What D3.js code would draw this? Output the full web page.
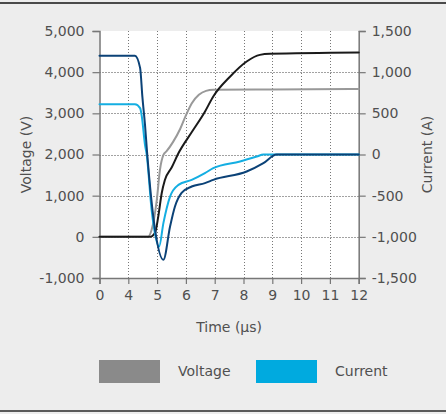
<!DOCTYPE html>
<html>
<head>
<meta charset="utf-8">
<script src="https://cdn.jsdelivr.net/npm/d3@7"></script>
<style>
  html, body { margin: 0; padding: 0; background: #ededed; }
  svg { display: block; }
  text { font-family: "DejaVu Sans", sans-serif; fill: #505050; }
</style>
</head>
<body>
<svg id="chart" width="446" height="414"></svg>
<script>
// Time axis ticks (µs); 0 → 4 is compressed into one step
const timeTicks = [0, 4, 5, 6, 7, 8, 9, 10, 11, 12];
const voltageTicks = [-1000, 0, 1000, 2000, 3000, 4000, 5000];
const voltageTickLabels = ["-1,000", "0", "1,000", "2,000", "3,000", "4,000", "5,000"];
const currentTicks = [-1500, -1000, -500, 0, 500, 1000, 1500];
const currentTickLabels = ["-1,500", "-1,000", "-500", "0", "500", "1,000", "1,500"];

// Voltage traces (V) vs time (µs)
const voltageGrey = [
  [0, 0], [4.68, 0], [4.81, 170], [4.99, 900], [5.10, 1630], [5.22, 1990],
  [5.33, 2080], [5.55, 2300], [5.8, 2620], [6.0, 2950], [6.2, 3240],
  [6.45, 3450], [6.7, 3545], [6.95, 3570], [9, 3580], [12, 3590]
];
const voltageBlack = [
  [0, 0], [4.75, 0], [4.93, 100], [5.04, 490], [5.16, 1060], [5.27, 1380],
  [5.51, 1690], [5.74, 2030], [6.20, 2540], [6.66, 3040], [6.95, 3410],
  [7.53, 3890], [8.11, 4260], [8.57, 4420], [8.92, 4445], [12, 4477]
];

// Current traces (A) vs time (µs)
const currentCyan = [
  [0, 610], [4.23, 610], [4.41, 563], [4.47, 461], [4.58, 117], [4.64, -4],
  [4.81, -672], [5.07, -1118], [5.22, -830], [5.45, -511], [5.74, -369],
  [6.20, -308], [6.66, -226], [6.95, -166], [7.88, -85], [8.46, -25],
  [8.69, 0], [12, 0]
];
const currentNavy = [
  [0, 1200], [4.23, 1200], [4.41, 1052], [4.49, 696], [4.58, 360], [4.65, 36],
  [4.93, -915], [5.22, -1279], [5.45, -875], [5.62, -632], [5.85, -466],
  [6.20, -389], [6.66, -348], [6.95, -308], [8.11, -207], [8.69, -105],
  [9.15, 0], [12, 0]
];

const legendItems = [
  { label: "Voltage", color: "#8a8a8a" },
  { label: "Current", color: "#00aadf" }
];

const svg = d3.select("#chart");

// frame lines
svg.append("rect").attr("x", 0).attr("y", 2).attr("width", 446).attr("height", 2).attr("fill", "#4a4a4a");
svg.append("rect").attr("x", 0).attr("y", 410).attr("width", 446).attr("height", 2).attr("fill", "#5a5a5a");

const plotLeft = 99.5, plotRight = 358.7, plotTop = 31, plotBottom = 278;
const step = (plotRight - plotLeft) / (timeTicks.length - 1);

const x = d3.scaleLinear().domain([0, 4, 12]).range([plotLeft, plotLeft + step, plotRight]);
const yV = d3.scaleLinear().domain([-1000, 5000]).range([plotBottom, plotTop]);
const yI = d3.scaleLinear().domain([-1500, 1500]).range([plotBottom, plotTop]);

// plot background
svg.append("rect").attr("x", plotLeft).attr("y", plotTop)
  .attr("width", plotRight - plotLeft).attr("height", plotBottom - plotTop).attr("fill", "#ffffff");

// dotted grid
const grid = svg.append("g").attr("stroke-width", 1).attr("stroke-dasharray", "1,2");
grid.selectAll("line.v").data(timeTicks.filter(t => t > 0 && t < 12)).join("line")
  .attr("stroke", "#777")
  .attr("x1", d => Math.round(x(d)) + 0.5).attr("x2", d => Math.round(x(d)) + 0.5)
  .attr("y1", plotTop).attr("y2", plotBottom);
grid.selectAll("line.h").data(voltageTicks.filter(v => v > -1000 && v < 5000)).join("line")
  .attr("stroke", "#444")
  .attr("x1", plotLeft).attr("x2", plotRight)
  .attr("y1", d => Math.round(yV(d)) + 0.5).attr("y2", d => Math.round(yV(d)) + 0.5);

// axes
function styleAxis(g) {
  g.selectAll(".domain").attr("stroke", "#777").attr("stroke-width", 1.5);
  g.selectAll(".tick line").attr("stroke", "#777").attr("stroke-width", 1.2);
  g.selectAll(".tick text").attr("fill", "#505050")
    .style("font-family", '"DejaVu Sans", sans-serif').style("font-size", "14px");
}

svg.append("g").attr("transform", `translate(${plotLeft},0)`)
  .call(d3.axisLeft(yV).tickValues(voltageTicks)
    .tickFormat((d, i) => voltageTickLabels[i]).tickSizeOuter(0).tickSize(7).tickPadding(8))
  .call(styleAxis);

svg.append("g").attr("transform", `translate(${plotRight},0)`)
  .call(d3.axisRight(yI).tickValues(currentTicks)
    .tickFormat((d, i) => currentTickLabels[i]).tickSizeOuter(0).tickSize(7).tickPadding(6))
  .call(styleAxis);

svg.append("g").attr("transform", `translate(0,${plotBottom})`)
  .call(d3.axisBottom(x).tickValues(timeTicks)
    .tickFormat(d => String(d)).tickSizeOuter(0).tickSize(6).tickPadding(6))
  .call(styleAxis);

// axis titles
svg.append("text").attr("transform", `translate(31,${(plotTop + plotBottom) / 2}) rotate(-90)`)
  .attr("text-anchor", "middle").style("font-size", "14px").text("Voltage (V)");
svg.append("text").attr("transform", `translate(432,${(plotTop + plotBottom) / 2}) rotate(-90)`)
  .attr("text-anchor", "middle").style("font-size", "14px").text("Current (A)");
svg.append("text").attr("x", (plotLeft + plotRight) / 2).attr("y", 332)
  .attr("text-anchor", "middle").style("font-size", "14px").text("Time (µs)");

// traces
const lineV = d3.line().x(d => x(d[0])).y(d => yV(d[1])).curve(d3.curveMonotoneX);
const lineI = d3.line().x(d => x(d[0])).y(d => yI(d[1])).curve(d3.curveMonotoneX);

const traces = svg.append("g").attr("fill", "none").attr("stroke-width", 2)
  .attr("stroke-linejoin", "round").attr("stroke-linecap", "round");
traces.append("path").datum(voltageGrey).attr("d", lineV).attr("stroke", "#999999");
traces.append("path").datum(voltageBlack).attr("d", lineV).attr("stroke", "#1a1a1a");
traces.append("path").datum(currentCyan).attr("d", lineI).attr("stroke", "#14aee2");
traces.append("path").datum(currentNavy).attr("d", lineI).attr("stroke", "#0b4277");

// legend
const legend = svg.append("g");
const lg = legend.selectAll("g").data(legendItems).join("g")
  .attr("transform", (d, i) => `translate(${99 + i * 157},360)`);
lg.append("rect").attr("width", 61).attr("height", 23).attr("fill", d => d.color);
lg.append("text").attr("x", 79).attr("y", 16).style("font-size", "14px").text(d => d.label);
</script>
</body>
</html>
